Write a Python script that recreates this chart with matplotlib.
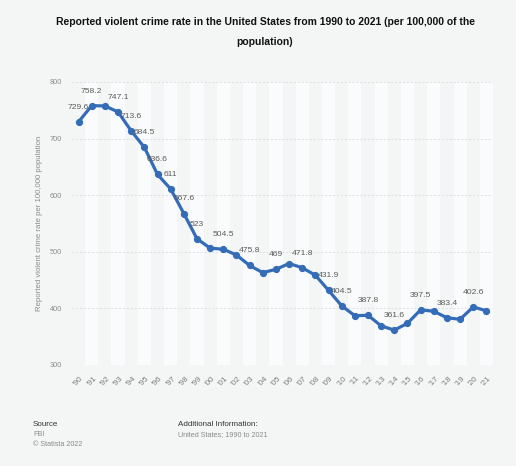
import matplotlib
matplotlib.use("Agg")
import matplotlib.pyplot as plt

years = list(range(1990, 2022))
tick_labels = ["'" + str(y)[2:] for y in years]
rates = [729.6, 758.2, 757.7, 747.1, 713.6, 684.5, 636.6, 611.0, 567.6, 523.0,
         506.5, 504.5, 494.4, 475.8, 463.2, 469.0, 479.3, 471.8, 458.6, 431.9,
         404.5, 387.1, 387.8, 369.1, 361.6, 373.7, 397.5, 394.9, 383.4, 380.8,
         402.6, 395.7]
labeled_years = [1990, 1991, 1993, 1994, 1995, 1996, 1997, 1998, 1999, 2001,
                 2003, 2005, 2007, 2009, 2010, 2012, 2014, 2016, 2018, 2020]

plt.rcParams['font.family'] = ['Liberation Sans', 'DejaVu Sans']

BG = '#f4f6f6'
BAND = '#fafbfc'
LINE = '#346cb8'

W, H = 516, 466
fig = plt.figure(figsize=(W / 100, H / 100), dpi=100, facecolor=BG)
ax = fig.add_axes([72 / W, 1 - 365 / H, (493 - 72) / W, (365 - 82) / H])
ax.set_facecolor(BG)

x = list(range(len(years)))
for i in x:
    if i % 2 == 1:
        ax.axvspan(i - 0.5, i + 0.5, color=BAND, lw=0, zorder=0)

ax.set_xlim(-0.5, len(years) - 0.5)
ax.set_ylim(300, 800)
ax.set_yticks([300, 400, 500, 600, 700, 800])
for yv in [300, 400, 500, 600, 700, 800]:
    ax.axhline(yv, color='#dcdfe2', lw=0.7, ls=(0, (2, 2)), zorder=1)

ax.plot(x, rates, color=LINE, lw=2.3, marker='o', ms=4.2, zorder=3,
        solid_joinstyle='round')

for yr in labeled_years:
    i = years.index(yr)
    v = rates[i]
    txt = f"{v:g}"
    ax.annotate(txt, (i, v), xytext=(0, 8), textcoords='offset points',
                ha='center', va='bottom', fontsize=6.1, color='#5a5a5a', zorder=4)

ax.set_xticks(x)
ax.set_xticklabels(tick_labels, rotation=45, fontsize=5.8, color='#7a7a7a',
                   ha='center', va='top')
ax.tick_params(axis='x', length=0, pad=7)
ax.tick_params(axis='y', length=0, pad=7, labelsize=5.3, labelcolor='#8a8a8a')
for s in ax.spines.values():
    s.set_visible(False)

ax.set_ylabel('Reported violent crime rate per 100,000 population',
              fontsize=5.6, color='#8a8a8a')
ax.yaxis.set_label_coords((43 - 72) / (493 - 72), 0.5)

fig.text(265 / W, 1 - 22 / H,
         'Reported violent crime rate in the United States from 1990 to 2021 (per 100,000 of the',
         ha='center', va='center', fontsize=7.5, fontweight='bold', color='#111111')
fig.text(265 / W, 1 - 42 / H, 'population)',
         ha='center', va='center', fontsize=7.5, fontweight='bold', color='#111111')

fig.text(33 / W, 1 - 425 / H, 'Source', fontsize=5.8, color='#333333', va='center')
fig.text(33 / W, 1 - 435 / H, 'FBI', fontsize=5.2, color='#8a8a8a', va='center')
fig.text(33 / W, 1 - 444 / H, '© Statista 2022', fontsize=5.2, color='#8a8a8a', va='center')
fig.text(178 / W, 1 - 425 / H, 'Additional Information:', fontsize=5.8, color='#333333', va='center')
fig.text(178 / W, 1 - 435 / H, 'United States; 1990 to 2021', fontsize=5.2, color='#8a8a8a', va='center')

fig.savefig('out.png', dpi=100, facecolor=BG)
